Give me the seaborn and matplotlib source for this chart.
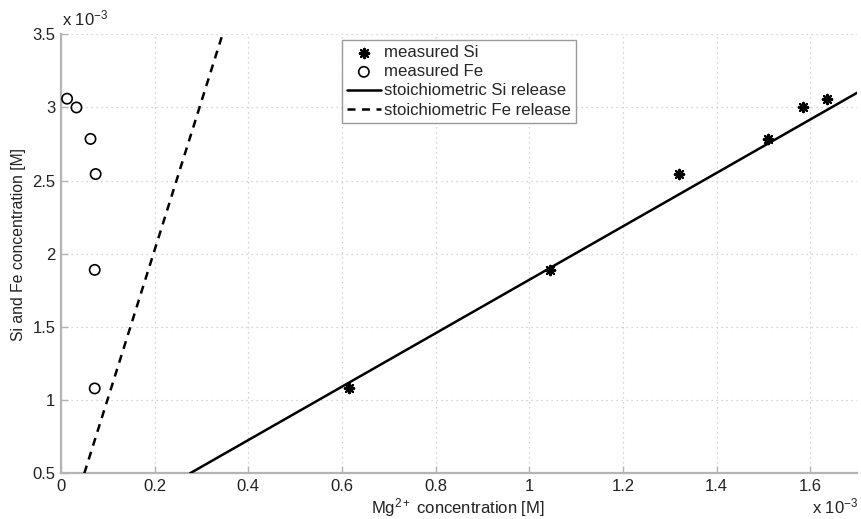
import matplotlib
matplotlib.use("Agg")
import matplotlib.pyplot as plt
import seaborn as sns
import pandas as pd

# values in units of 1e-3 M
si_mg = [0.615, 1.045, 1.32, 1.51, 1.585, 1.635]
si_conc = [1.08, 1.89, 2.545, 2.785, 3.0, 3.06]
fe_mg = [0.013, 0.033, 0.063, 0.074, 0.072, 0.072]
fe_conc = [3.06, 3.0, 2.785, 2.545, 1.89, 1.08]
si_line_x = [0.2756, 1.7]
si_line_y = [0.5, 3.1]
fe_line_x = [0.0498, 0.343]
fe_line_y = [0.5, 3.48]
x_ticks = [0, 0.2, 0.4, 0.6, 0.8, 1.0, 1.2, 1.4, 1.6]
x_labels = ["0", "0.2", "0.4", "0.6", "0.8", "1", "1.2", "1.4", "1.6"]
y_ticks = [0.5, 1.0, 1.5, 2.0, 2.5, 3.0, 3.5]
y_labels = ["0.5", "1", "1.5", "2", "2.5", "3", "3.5"]

sns.set_style("white")
plt.rcParams["font.family"] = ["Liberation Sans", "DejaVu Sans"]
plt.rcParams["mathtext.fontset"] = "custom"
plt.rcParams["mathtext.rm"] = "Liberation Sans"
plt.rcParams["mathtext.it"] = "Liberation Sans"

fig = plt.figure(figsize=(8.62, 5.19), dpi=100)
ax = fig.add_axes([61/862, 1-473.3/519, (857-61)/862, (473.3-34.3)/519])

df_si = pd.DataFrame({"x": si_mg, "y": si_conc})
df_fe = pd.DataFrame({"x": fe_mg, "y": fe_conc})
df_sil = pd.DataFrame({"x": si_line_x, "y": si_line_y})
df_fel = pd.DataFrame({"x": fe_line_x, "y": fe_line_y})

sns.scatterplot(data=df_si, x="x", y="y", ax=ax, marker=(8, 2, 0), s=45,
                color="black", linewidth=1.6, edgecolor="black", label="measured Si", zorder=4)
sns.scatterplot(data=df_fe, x="x", y="y", ax=ax, marker="o", s=55,
                facecolor="none", edgecolor="black", linewidth=1.2, label="measured Fe", zorder=4)
sns.lineplot(data=df_sil, x="x", y="y", ax=ax, color="black", linewidth=1.8,
             label="stoichiometric Si release", zorder=3)
sns.lineplot(data=df_fel, x="x", y="y", ax=ax, color="black", linewidth=1.8,
             linestyle=(0, (3.2, 2.6)), label="stoichiometric Fe release", zorder=3)

ax.set_xlim(0, 1.7)
ax.set_ylim(0.5, 3.5)
ax.set_xticks(x_ticks)
ax.set_xticklabels(x_labels)
ax.set_yticks(y_ticks)
ax.set_yticklabels(y_labels)
ax.grid(True, linestyle=(0, (1, 3)), color="#c8c8c8", linewidth=0.9)

for s in ["top", "right"]:
    ax.spines[s].set_visible(False)
for s in ["left", "bottom"]:
    ax.spines[s].set_color("#b4b4b4")
    ax.spines[s].set_linewidth(1.6)
ax.tick_params(axis="both", direction="in", length=5, width=1, color="#b4b4b4",
               labelsize=12, labelcolor="#222222", pad=4, left=True, bottom=True)

ax.set_xlabel("Mg$^{2+}$ concentration [M]", fontsize=12, color="#222222")
ax.xaxis.set_label_coords(458/862, 1-508/519, transform=fig.transFigure)
ax.xaxis.label.set_va("center")
ax.set_ylabel("Si and Fe concentration [M]", fontsize=11.3, color="#222222")
ax.yaxis.set_label_coords(19/862, 1-244/519, transform=fig.transFigure)
ax.yaxis.label.set_va("center")

fig.text(62/862, 1-18/519, "x 10$^{-3}$", fontsize=12, color="#222222", va="center", ha="left")
fig.text(812/862, 1-506/519, "x 10$^{-3}$", fontsize=12, color="#222222", va="center", ha="left")

leg = ax.legend(loc="upper left", bbox_to_anchor=(342/862, 1-40/519), bbox_transform=fig.transFigure,
                frameon=True, fancybox=False, framealpha=1, edgecolor="#999999",
                fontsize=12.1, handlelength=2.0, handletextpad=0.2, borderpad=0.3,
                labelspacing=0.25, borderaxespad=0)
leg.get_frame().set_linewidth(1.0)

fig.savefig("out.png", dpi=100)
